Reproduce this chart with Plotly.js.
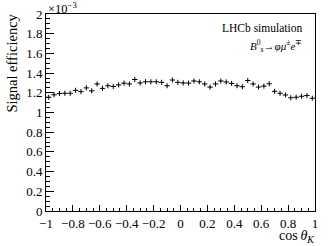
<!DOCTYPE html>
<html>
<head>
<meta charset="utf-8">
<script src="https://cdn.plot.ly/plotly-3.0.1.min.js"></script>
<style>
html,body{margin:0;padding:0;background:#fff;}
#chart{width:332px;height:246px;}
</style>
</head>
<body>
<div id="chart"></div>
<script>
// bin centres of cos(theta_K), 50 bins from -1 to 1
const binLow = -1;
const binWidth = 0.04;
// signal efficiency per bin, in units of 1e-3
const efficiency = [
  1.155, 1.180, 1.192, 1.195, 1.195, 1.225, 1.212, 1.250, 1.220, 1.290,
  1.245, 1.272, 1.265, 1.280, 1.298, 1.290, 1.335, 1.300, 1.312, 1.312,
  1.312, 1.306, 1.272, 1.330, 1.306, 1.300, 1.298, 1.320, 1.312, 1.290,
  1.258, 1.290, 1.320, 1.310, 1.295, 1.272, 1.262, 1.325, 1.290, 1.258,
  1.268, 1.292, 1.215, 1.195, 1.178, 1.150, 1.155, 1.165, 1.172, 1.145
];
const effError = 0.026;
const xTickVals = [-1, -0.8, -0.6, -0.4, -0.2, 0, 0.2, 0.4, 0.6, 0.8, 1];
const xTickText = ["\u22121", "\u22120.8", "\u22120.6", "\u22120.4", "\u22120.2", "0", "0.2", "0.4", "0.6", "0.8", "1"];
const yTickVals = [0, 0.2, 0.4, 0.6, 0.8, 1, 1.2, 1.4, 1.6, 1.8, 2];
const yTickText = ["0", "0.2", "0.4", "0.6", "0.8", "1", "1.2", "1.4", "1.6", "1.8", "2"];

const xCentres = efficiency.map((_, i) => binLow + (i + 0.5) * binWidth);

const FONT = "Liberation Serif, Times New Roman, serif";

const trace = {
  x: xCentres,
  y: efficiency,
  type: "scatter",
  mode: "markers",
  marker: {size: 1, color: "black"},
  error_x: {type: "constant", value: binWidth / 2, width: 0, thickness: 1, color: "black"},
  error_y: {type: "constant", value: effError, width: 0, thickness: 1, color: "black"},
  hoverinfo: "skip"
};

const layout = {
  width: 332, height: 246,
  margin: {l: 46, r: 17, t: 14, b: 35},
  paper_bgcolor: "white",
  plot_bgcolor: "white",
  showlegend: false,
  font: {family: FONT, size: 13, color: "black"},
  xaxis: {
    range: [-1, 1],
    tickmode: "array", tickvals: xTickVals, ticktext: xTickText,
    ticks: "inside", ticklen: 6, tickwidth: 1, tickcolor: "black",
    minor: {dtick: 0.05, ticks: "inside", ticklen: 3, tickcolor: "black", showgrid: false},
    showline: true, linecolor: "black", linewidth: 1, mirror: true,
    showgrid: false, zeroline: false,
    tickfont: {family: FONT, size: 13, color: "black"}
  },
  yaxis: {
    range: [0, 2],
    tickmode: "array", tickvals: yTickVals, ticktext: yTickText,
    ticks: "inside", ticklen: 8, tickwidth: 1, tickcolor: "black",
    minor: {dtick: 0.05, ticks: "inside", ticklen: 4, tickcolor: "black", showgrid: false},
    showline: true, linecolor: "black", linewidth: 1, mirror: true,
    showgrid: false, zeroline: false,
    tickfont: {family: FONT, size: 13, color: "black"}
  },
  annotations: [
    {xref: "paper", yref: "paper", x: 1.005, xanchor: "right", y: -0.078, yanchor: "top",
     text: "cos<i>\u2009\u03b8</i><sub><i>K</i></sub>", showarrow: false,
     font: {family: FONT, size: 14, color: "black"}},
    {xref: "paper", yref: "paper", x: -0.13, xanchor: "center", y: 1.01, yanchor: "top",
     text: "Signal efficiency", textangle: -90, showarrow: false,
     font: {family: FONT, size: 14.5, color: "black"}},
    {xref: "paper", yref: "paper", x: 0, xanchor: "left", y: 0.98, yanchor: "bottom",
     text: "\u00d710<sup>\u22123</sup>", showarrow: false,
     font: {family: FONT, size: 12.5, color: "black"}},
    {xref: "paper", yref: "paper", x: 0.96, xanchor: "right", y: 0.97, yanchor: "top",
     text: "LHCb simulation", showarrow: false,
     font: {family: FONT, size: 11.5, color: "black"}},
    {xref: "paper", yref: "paper", x: 0.96, xanchor: "right", y: 0.89, yanchor: "top",
     text: "<i>B</i><sup>0</sup><sub><i>s</i></sub>\u2192<i>\u03c6\u03bc</i><sup>\u00b1</sup><i>e</i><sup>\u2213</sup>",
     showarrow: false,
     font: {family: FONT, size: 11, color: "black"}}
  ]
};

Plotly.newPlot("chart", [trace], layout, {staticPlot: true, displayModeBar: false});
</script>
</body>
</html>
